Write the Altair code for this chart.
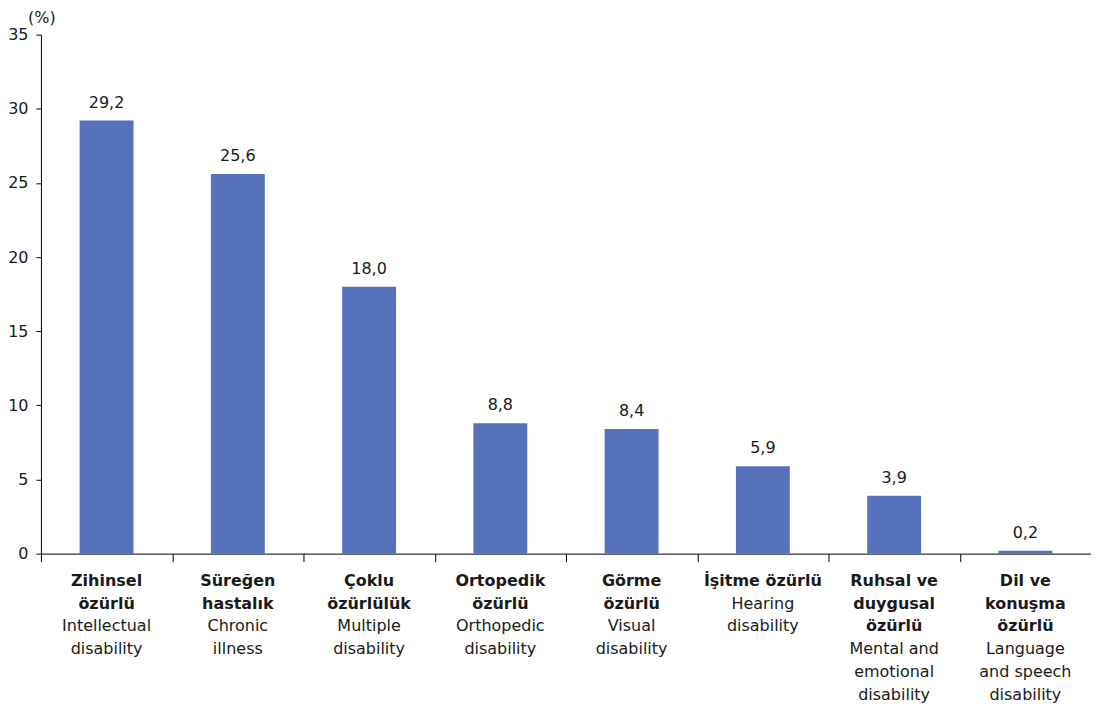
import altair as alt
import pandas as pd

# --- data ---
cat_tr_lines = [["Zihinsel", "özürlü"], ["Süreğen", "hastalık"], ["Çoklu", "özürlülük"],
                ["Ortopedik", "özürlü"], ["Görme", "özürlü"], ["İşitme özürlü"],
                ["Ruhsal ve", "duygusal", "özürlü"], ["Dil ve", "konuşma", "özürlü"]]
cat_en_lines = [["Intellectual", "disability"], ["Chronic", "illness"], ["Multiple", "disability"],
                ["Orthopedic", "disability"], ["Visual", "disability"], ["Hearing", "disability"],
                ["Mental and", "emotional", "disability"], ["Language", "and speech", "disability"]]
values = [29.2, 25.6, 18.0, 8.8, 8.4, 5.9, 3.9, 0.2]
y_ticks = [0, 5, 10, 15, 20, 25, 30, 35]
unit_label = ["(%)"]

W, H = 1052, 520
FONT = "DejaVu Sans"
BLUE = "#5572BA"
TXT = "#1a1a1a"

df = pd.DataFrame({
    "pos": [i + 0.5 for i in range(len(values))],
    "value": values,
    "label": [f"{v:.1f}".replace(".", ",") for v in values],
})

rows = []
for i, (tr, en) in enumerate(zip(cat_tr_lines, cat_en_lines)):
    for r, t in enumerate(tr + en):
        rows.append({"pos": i + 0.5, "row": r, "text": t, "bold": r < len(tr)})
lines = pd.DataFrame(rows)

xscale = alt.Scale(domain=[0, len(values)], nice=False, zero=False, padding=0)
yscale = alt.Scale(domain=[0, 35], nice=False)
rowscale = alt.Scale(domain=[0, 5], range=[H + 27, H + 27 + 5 * 23])

base = alt.Chart(df)

bars = base.mark_bar(size=54, color=BLUE).encode(
    x=alt.X("pos:Q", scale=xscale,
            axis=alt.Axis(values=list(range(len(values) + 1)), labels=False, title=None,
                          grid=False, tickSize=8, domainColor="black", tickColor="black")),
    y=alt.Y("value:Q", scale=yscale,
            axis=alt.Axis(values=y_ticks, grid=False, tickSize=5, labelPadding=8,
                          labelFontSize=16, labelFont=FONT, labelColor=TXT,
                          domainColor="black", tickColor="black", title=None)),
)

vals = base.mark_text(dy=-13, baseline="alphabetic", fontSize=16, font=FONT, color=TXT).encode(
    x="pos:Q", y="value:Q", text="label:N"
)

unit = alt.Chart(pd.DataFrame({"t": unit_label})).mark_text(
    align="center", baseline="middle", fontSize=16, font=FONT, color=TXT
).encode(x=alt.value(1), y=alt.value(-17), text="t:N")

main = alt.layer(bars, vals, unit)

lbase = alt.Chart(lines)
tr_text = lbase.transform_filter("datum.bold").mark_text(
    align="center", baseline="middle", fontSize=16, fontWeight="bold", font=FONT, color=TXT
).encode(x=alt.X("pos:Q", scale=xscale), y=alt.Y("row:Q", scale=rowscale, axis=None), text="text:N")
en_text = lbase.transform_filter("!datum.bold").mark_text(
    align="center", baseline="middle", fontSize=16, font=FONT, color=TXT
).encode(x=alt.X("pos:Q", scale=xscale), y=alt.Y("row:Q", scale=rowscale, axis=None), text="text:N")
labels = alt.layer(tr_text, en_text)

chart = alt.layer(main, labels).resolve_scale(y="independent").properties(
    width=W, height=H,
    autosize=alt.AutoSizeParams(type="none"),
    padding={"left": 33, "top": 26, "right": 0, "bottom": 151},
).configure_view(stroke=None)

chart.save("out.html", embed_options={"renderer": "svg", "actions": False})
